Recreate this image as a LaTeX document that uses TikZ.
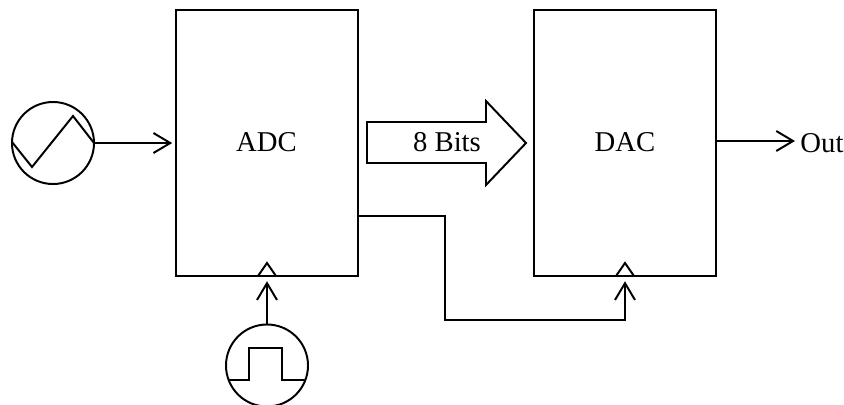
\documentclass[tikz,border=0pt]{standalone}
\usepackage{fontspec}
\setmainfont{Liberation Serif}
\usetikzlibrary{arrows.meta}
\tikzset{
    block/.style={draw,minimum width=4.55cm,minimum height=6.65cm,inner sep=0pt},
    source/.style={draw,circle,minimum size=2.05cm,inner sep=0pt},
    sig/.style={-{Straight Barb[length=0.42cm,width=0.5cm,line width=1.4pt]}},
    lbl/.style={inner sep=0pt,font=\fontsize{20.4}{24}\selectfont}
}
\begin{document}
\begin{tikzpicture}[x=0.025cm,y=-0.025cm,line width=1.4pt,line join=miter]
    \useasboundingbox[clip] (0,0) rectangle (844,404);

    \node[block] (adc) at (267,143) {};
    \node[block] (dac) at (625,143) {};
    \node[lbl] (adclbl) at (266.5,142) {ADC};
    \node[lbl] (daclbl) at (625,142) {DAC};
    \node[source] (saw) at (53,143) {};
    \node[source] (clk) at (267,365.5) {};

    % waveforms
    \draw (12,142) -- (32,167) -- (73,116) -- (94,143);
    \draw (228,380) -- (249,380) -- (249,348) -- (282,348) -- (282,380) -- (306,380);

    % clock marks
    \draw (258,276) -- (267,263) -- (276,276);
    \draw (616,276) -- (625,263) -- (634,276);

    % 8 bit bus
    \draw (367,122) -- (486,122) -- (486,101) -- (526,143) -- (486,185) -- (486,163) -- (367,163) -- cycle;
    \node[lbl] (bits) at (447,142) {8 Bits};

    \node[lbl] (out) at (822,143) {Out};
    \coordinate (adcq) at (358,216);
    \coordinate (dacq) at (716,141);
    \coordinate (outp) at (795,141);
    \coordinate (b1) at (445,320);
    \coordinate (b2) at (625,320);

    \draw[sig,shorten >=2] (saw.east) -- (adc.west);
    \draw[sig,shorten >=3] (clk.north) -- (clk.north |- adc.south);
    \draw[sig] (dacq) -- (outp);
    \draw[sig,shorten >=3] (adcq) -| (b1) -- (b2) -- (b2 |- dac.south);
\end{tikzpicture}
\end{document}
